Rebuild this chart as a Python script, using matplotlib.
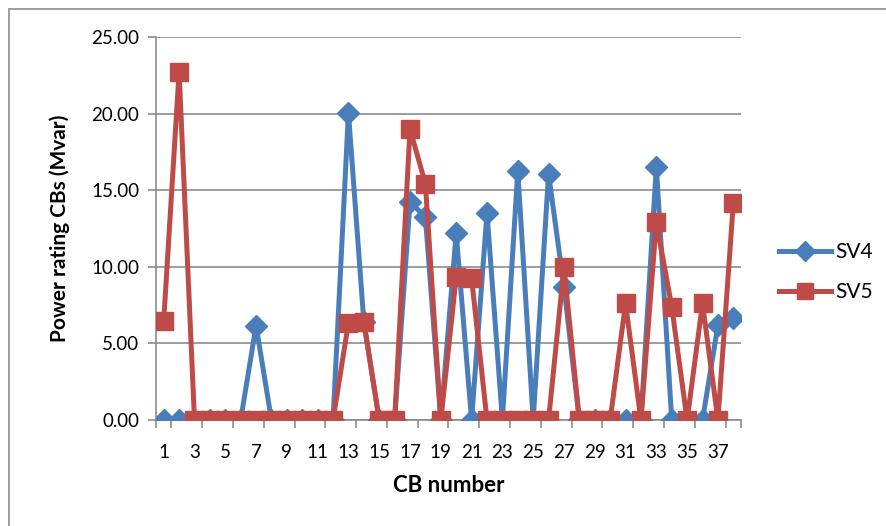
import numpy as np
import matplotlib
matplotlib.use("Agg")
import matplotlib.pyplot as plt
from matplotlib.patches import Rectangle

# CB numbers and power ratings (Mvar)
cb = list(range(1, 39))
sv4 = [0, 0, 0, 0, 0, 0, 6.16, 0, 0, 0,
       0, 0, 20.06, 6.4, 0, 0, 14.25, 13.23, 0, 12.19,
       0, 13.53, 0, 16.27, 0, 16.06, 8.7, 0, 0, 0,
       0, 0, 16.54, 0, 0, 0, 6.2, 6.64]
sv5 = [6.46, 22.74, 0, 0, 0, 0, 0, 0, 0, 0,
       0, 0, 6.35, 6.42, 0, 0, 19.0, 15.4, 0, 9.34,
       9.25, 0, 0, 0, 0, 0, 9.97, 0, 0, 0,
       7.61, 0, 12.9, 7.4, 0, 7.61, 0, 14.14]
x_labels = [str(i) for i in range(1, 38, 2)]
y_ticks = [0, 5, 10, 15, 20, 25]

plt.rcParams['font.family'] = ['Lato', 'DejaVu Sans']

fig = plt.figure(figsize=(8.87, 5.26), dpi=100)
ax = fig.add_axes([156 / 887, 1 - 420 / 526, (741 - 156) / 887, (420 - 37) / 526])

# outer chart border
fig.patches.append(Rectangle((9 / 887, -0.1), 1.0, 1 - 9 / 526 + 0.1,
                             transform=fig.transFigure, fill=False,
                             edgecolor='#8c8c8c', lw=1.2))

blue = '#4A7EBB'
red = '#BE4B48'
ax.plot(cb, sv4, color=blue, lw=3.6, marker='D', ms=11, label='SV4', zorder=3)
ax.plot(cb, sv5, color=red, lw=3.6, marker='s', ms=12.5, label='SV5', zorder=4)

ax.set_xlim(0.5, 38.5)
ax.set_ylim(0, 25)
ax.set_yticks(y_ticks)
ax.set_yticklabels(['%.2f' % v for v in y_ticks], fontsize=13.5)
ax.set_xticks(range(1, 38, 2))
ax.set_xticklabels(x_labels, fontsize=13.5)
ax.set_xticks([0.5] + [k + 0.5 for k in range(1, 38, 2)] + [38.5], minor=True)
ax.tick_params(axis='x', which='major', length=0, pad=17)
ax.tick_params(axis='x', which='minor', length=6, width=1.2, color='#8c8c8c', direction='out')
ax.tick_params(axis='y', length=6, width=1.2, color='#8c8c8c', pad=6)

ax.grid(axis='y', color='#8c8c8c', lw=1.2)
ax.set_axisbelow(True)
for s in ['top', 'right']:
    ax.spines[s].set_visible(False)
for s in ['left', 'bottom']:
    ax.spines[s].set_color('#8c8c8c')
    ax.spines[s].set_linewidth(1.2)
ax.spines['bottom'].set_zorder(2)

ax.set_xlabel('CB number', fontsize=16, fontweight='bold', labelpad=10)
ax.set_ylabel('Power rating CBs (Mvar)', fontsize=15, fontweight='bold', labelpad=15)

ax.legend(loc='center left', bbox_to_anchor=(771 / 887, 1 - 272 / 526),
          bbox_transform=fig.transFigure, frameon=False, fontsize=15,
          borderaxespad=0, handlelength=2.5, labelspacing=0.95,
          handletextpad=0.2, markerscale=0.9)

plt.savefig('out.png', dpi=100)
